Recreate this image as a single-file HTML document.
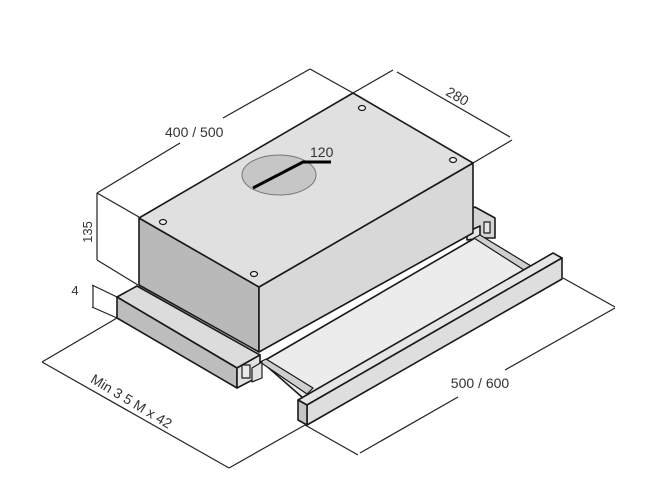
<!DOCTYPE html>
<html><head><meta charset="utf-8"><style>
html,body{margin:0;padding:0;background:#fff;width:650px;height:500px;overflow:hidden}
svg{display:block}
text{font-family:"Liberation Sans","DejaVu Sans",sans-serif;fill:#333}
</style></head><body>
<svg width="650" height="500" viewBox="0 0 650 500" xmlns="http://www.w3.org/2000/svg">
<g stroke="#1a1a1a" stroke-width="1.6" stroke-linejoin="round" fill="none">
<polygon points="470,210 475,207 495,218 495,238 473,238" fill="#d4d4d4"/>
<polygon points="467,232 480,226 480,238 467,240" fill="#e6e6e6"/>
<rect x="484" y="222" width="6" height="11" fill="#e6e6e6" stroke-width="1.2"/>
<polygon points="262,362 475,238 530,268 303,398" fill="#ececec"/>
<polygon points="260,362 266,359 313,388 307,394" fill="#cfcfcf" stroke-width="1.2"/>
<polygon points="474,238 480,235 531,266 524,270" fill="#cfcfcf" stroke-width="1.2"/>
<polygon points="298,400 553,253 562,258 307,405" fill="#e6e6e6"/>
<polygon points="307,405 562,258 562,279 307,425" fill="#dedede"/>
<polygon points="298,400 307,405 307,425 298,420" fill="#c4c4c4"/>
<polygon points="117,297 137,286 260,355 237,368" fill="#dcdcdc"/>
<polygon points="117,297 237,368 237,388 117,318" fill="#bdbdbd"/>
<polygon points="237,368 260,355 260,376 237,388" fill="#e3e3e3"/>
<rect x="242" y="365" width="8" height="13" fill="#eaeaea" stroke-width="1.2"/>
<polygon points="252,368 262,362 262,378 252,382" fill="#e3e3e3" stroke-width="1.2"/>
<polygon points="139,218 259,287 259,352 139,285" fill="#b9b9b9"/>
<polygon points="259,287 473,163 473,233 259,352" fill="#d8d8d8"/>
<polygon points="353,93 473,163 259,287 139,218" fill="#e0e0e0"/>
<ellipse cx="279" cy="175" rx="37" ry="20" fill="#c6c6c6" stroke="#777" stroke-width="1"/>
<g stroke-width="1.2" fill="#f2f2f2">
<ellipse cx="362" cy="108" rx="3.5" ry="2.5"/>
<ellipse cx="453" cy="160" rx="3.5" ry="2.5"/>
<ellipse cx="163" cy="222" rx="3.5" ry="2.5"/>
<ellipse cx="254" cy="274" rx="3.5" ry="2.5"/>
</g>
</g>
<polyline points="253,188 303,162 331,162" fill="none" stroke="#000" stroke-width="3"/>
<g stroke="#222" stroke-width="1.2" fill="none">
<line x1="139" y1="217" x2="97" y2="193"/>
<line x1="353" y1="93" x2="310" y2="69"/>
<line x1="97" y1="193" x2="180" y2="143"/>
<line x1="223" y1="118" x2="310" y2="69"/>
<line x1="353" y1="93" x2="393" y2="70"/>
<line x1="473" y1="163" x2="512" y2="140"/>
<line x1="397" y1="72" x2="510" y2="137"/>
<line x1="97" y1="193" x2="97" y2="260"/>
<line x1="97" y1="260" x2="138" y2="285"/>
<line x1="92" y1="285" x2="117" y2="297"/>
<line x1="92" y1="307" x2="117" y2="318"/>
<line x1="93" y1="285" x2="93" y2="307"/>
<line x1="117" y1="318" x2="42" y2="362"/>
<line x1="42" y1="362" x2="229" y2="468"/>
<line x1="305" y1="425" x2="229" y2="468"/>
<line x1="305" y1="425" x2="358" y2="455"/>
<line x1="360" y1="453" x2="458" y2="397"/>
<line x1="505" y1="370" x2="615" y2="308"/>
<line x1="563" y1="278" x2="615" y2="307"/>
</g>
<text x="165" y="137" font-size="14">400 / 500</text>
<text x="310" y="157" font-size="14">120</text>
<text x="457" y="101" font-size="14" text-anchor="middle" transform="rotate(30 457 97)">280</text>
<text x="92" y="232" font-size="13" text-anchor="middle" transform="rotate(-90 92 232)">135</text>
<text x="75" y="295" font-size="13" text-anchor="middle">4</text>
<text x="131" y="406" font-size="14" text-anchor="middle" transform="rotate(31 131 402)">Min 3  5 M x 42</text>
<text x="480" y="388" font-size="14" text-anchor="middle">500 / 600</text>
</svg>
</body></html>
